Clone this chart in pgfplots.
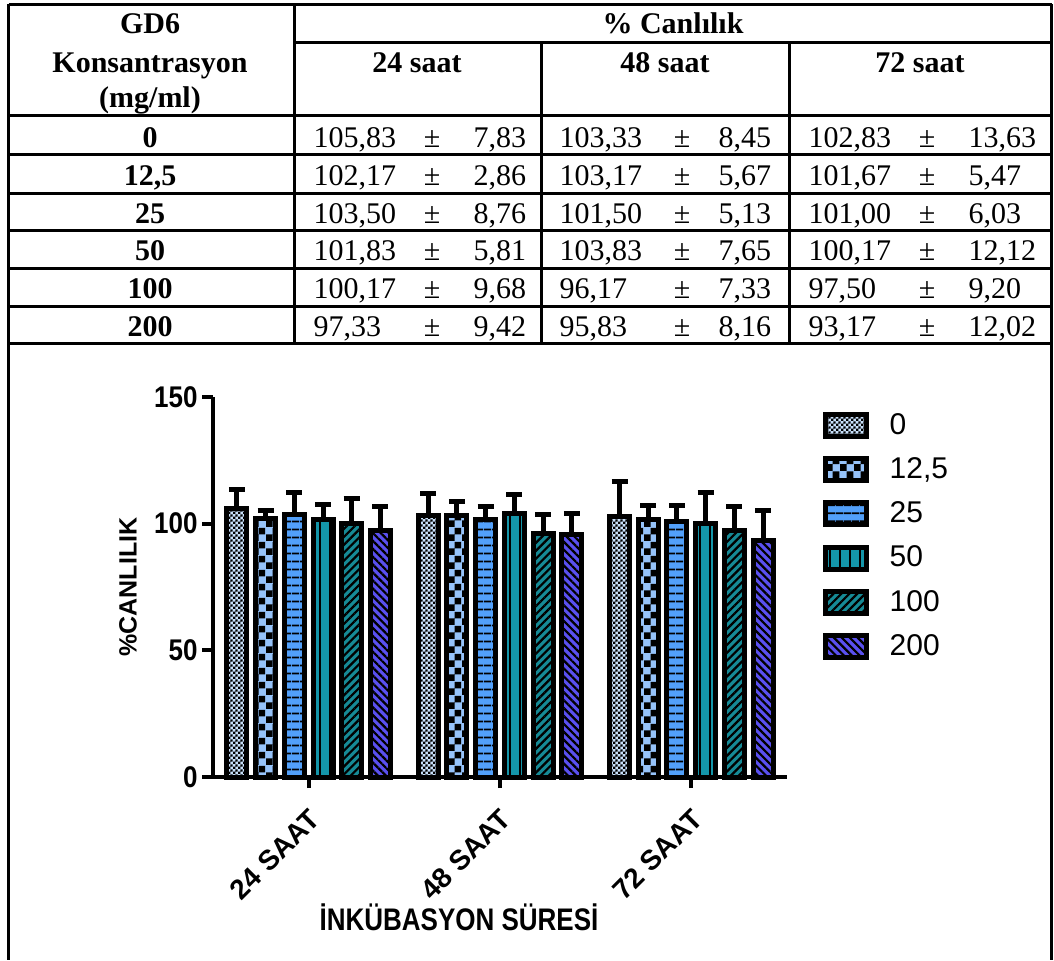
\documentclass[border=0pt]{standalone}
\usepackage{fontspec}
\setmainfont{Liberation Serif}
\newfontfamily\arial{Liberation Sans}
\usepackage{pgfplots}
\pgfplotsset{compat=1.18}
\usetikzlibrary{patterns,patterns.meta}

\definecolor{c0}{RGB}{200,224,250}
\definecolor{c1}{RGB}{150,195,250}
\definecolor{c2}{RGB}{82,160,250}
\definecolor{c3}{RGB}{20,150,170}
\definecolor{c4}{RGB}{22,138,150}
\definecolor{c5}{RGB}{90,80,240}

\pgfdeclarepatternformonly{finecheck}{\pgfqpoint{0pt}{0pt}}{\pgfqpoint{2.6pt}{2.6pt}}{\pgfqpoint{2.6pt}{2.6pt}}{%
  \pgfpathrectangle{\pgfqpoint{0pt}{0pt}}{\pgfqpoint{1.3pt}{1.3pt}}%
  \pgfpathrectangle{\pgfqpoint{1.3pt}{1.3pt}}{\pgfqpoint{1.3pt}{1.3pt}}%
  \pgfusepath{fill}}
\pgfdeclarepatternformonly{coarsecheck}{\pgfqpoint{0pt}{0pt}}{\pgfqpoint{7pt}{7pt}}{\pgfqpoint{7pt}{7pt}}{%
  \pgfpathrectangle{\pgfqpoint{0pt}{0pt}}{\pgfqpoint{3.5pt}{3.5pt}}%
  \pgfpathrectangle{\pgfqpoint{3.5pt}{3.5pt}}{\pgfqpoint{3.5pt}{3.5pt}}%
  \pgfusepath{fill}}

\newcommand\tfont{\fontsize{15}{18}\selectfont}
\newcommand\trow[8]{%
  \node[anchor=base,font=\tfont\bfseries] at (150,#1) {#2};
  \node[anchor=base west] at (312,#1) {#3};
  \node[anchor=base] at (432,#1) {±};
  \node[anchor=base west] at (472,#1) {#4};
  \node[anchor=base west] at (558,#1) {#5};
  \node[anchor=base] at (682,#1) {±};
  \node[anchor=base west] at (717,#1) {#6};
  \node[anchor=base west] at (807,#1) {#7};
  \node[anchor=base] at (927,#1) {±};
  \node[anchor=base west] at (967,#1) {#8};
}

\pgfplotsset{
  mylegend/.style={legend image code/.code={%
    \draw[##1, line width=2.5pt] (0pt,-6.4pt) rectangle (20.5pt,4.6pt);}},
  myerr/.style={error bars/.cd, y dir=plus, y explicit,
    error bar style={line width=2.5pt, black},
    error mark options={rotate=90, line width=2.5pt, black, mark size=4pt}},
}

\begin{document}
\begin{tikzpicture}
\useasboundingbox (0,0) rectangle (527pt,-480pt);
\begin{scope}[x=0.5pt,y=-0.5pt, line width=1.5pt, every node/.style={inner sep=0pt, font=\tfont}]
  % table lines
  \draw (8.5,4) -- (1051.5,4);
  \draw (294,42) -- (1051.5,42);
  \foreach \yy in {115,154,193,230,268,306,343} {\draw (8.5,\yy) -- (1051.5,\yy);}
  \draw (8.5,4) -- (8.5,960);
  \draw (1051.5,4) -- (1051.5,960);
  \draw (294,4) -- (294,343);
  \draw (541,42) -- (541,343);
  \draw (789,42) -- (789,343);
  % header
  \node[anchor=base,font=\tfont\bfseries] at (150,33) {GD6};
  \node[anchor=base,font=\tfont\bfseries] at (150,72) {Konsantrasyon};
  \node[anchor=base,font=\tfont\bfseries] at (150,107) {(mg/ml)};
  \node[anchor=base,font=\tfont\bfseries] at (673,33) {\% Canlılık};
  \node[anchor=base,font=\tfont\bfseries] at (417,72) {24 saat};
  \node[anchor=base,font=\tfont\bfseries] at (665,72) {48 saat};
  \node[anchor=base,font=\tfont\bfseries] at (920,72) {72 saat};
  % rows
  \trow{147}{0}{105,83}{7,83}{103,33}{8,45}{102,83}{13,63}
  \trow{185}{12,5}{102,17}{2,86}{103,17}{5,67}{101,67}{5,47}
  \trow{223}{25}{103,50}{8,76}{101,50}{5,13}{101,00}{6,03}
  \trow{260}{50}{101,83}{5,81}{103,83}{7,65}{100,17}{12,12}
  \trow{298}{100}{100,17}{9,68}{96,17}{7,33}{97,50}{9,20}
  \trow{336}{200}{97,33}{9,42}{95,83}{8,16}{93,17}{12,02}
\end{scope}

\begin{axis}[
  at={(106.5pt,-388.5pt)}, anchor=south west,
  scale only axis, width=287pt, height=190pt,
  xmin=-0.5, xmax=2.5, ymin=0, ymax=150,
  axis lines=left,
  axis line style={line width=2pt, -},
  tick style={line width=2pt, black},
  tick align=outside, major tick length=5.5pt,
  xtick={0,1,2}, xticklabels={24 SAAT,48 SAAT,72 SAAT},
  ytick={0,50,100,150},
  /pgf/number format/assume math mode=true,
  ticklabel style={font=\arial\bfseries\fontsize{13}{13}\selectfont},
  xticklabel style={font=\arial\bfseries\fontsize{14}{14}\selectfont, yshift=-8pt, xshift=-0.5pt, rotate=45, anchor=north east, inner sep=1pt},
  yticklabel style={yscale=1.15, inner sep=2pt},
  ybar, bar width=10pt,
  clip=false,
  legend style={at={(rel axis cs:1.051,0.973)}, anchor=north west, draw=none, fill=none,
    font=\arial\fontsize{15}{15}\selectfont, row sep=8.65pt,
    nodes={inner sep=0pt, text height=10.7pt, text depth=0pt},
    /tikz/every odd column/.append style={column sep=10.5pt}},
  legend cell align=left,
]
\addplot[draw=black, line width=2.5pt, fill=c0, postaction={pattern=finecheck, pattern color=black}, bar shift=-35.875pt, mylegend, myerr]
  coordinates {(0,105.83) +- (0,7.83) (1,103.33) +- (0,8.45) (2,102.83) +- (0,13.63)};
\addlegendentry{0}
\addplot[draw=black, line width=2.5pt, fill=c1, postaction={pattern=coarsecheck, pattern color=black}, bar shift=-21.525pt, mylegend, myerr]
  coordinates {(0,102.17) +- (0,2.86) (1,103.17) +- (0,5.67) (2,101.67) +- (0,5.47)};
\addlegendentry{12,5}
\addplot[draw=black, line width=2.5pt, fill=c2, postaction={pattern={Lines[angle=0,distance=4pt,line width=1pt]}, pattern color=black}, bar shift=-7.175pt, mylegend, myerr]
  coordinates {(0,103.50) +- (0,8.76) (1,101.50) +- (0,5.13) (2,101.00) +- (0,6.03)};
\addlegendentry{25}
\addplot[draw=black, line width=2.5pt, fill=c3, postaction={pattern={Lines[angle=90,distance=5pt,line width=1pt]}, pattern color=black}, bar shift=7.175pt, mylegend, myerr]
  coordinates {(0,101.83) +- (0,5.81) (1,103.83) +- (0,7.65) (2,100.17) +- (0,12.12)};
\addlegendentry{50}
\addplot[draw=black, line width=2.5pt, fill=c4, postaction={pattern={Lines[angle=45,distance=2.8pt,line width=1.1pt]}, pattern color=black}, bar shift=21.525pt, mylegend, myerr]
  coordinates {(0,100.17) +- (0,9.68) (1,96.17) +- (0,7.33) (2,97.50) +- (0,9.20)};
\addlegendentry{100}
\addplot[draw=black, line width=2.5pt, fill=c5, postaction={pattern={Lines[angle=-45,distance=2.8pt,line width=1.1pt]}, pattern color=black}, bar shift=35.875pt, mylegend, myerr]
  coordinates {(0,97.33) +- (0,9.42) (1,95.83) +- (0,8.16) (2,93.17) +- (0,12.02)};
\addlegendentry{200}
\end{axis}

\node[rotate=90, inner sep=0pt, font=\arial\bfseries\fontsize{12.5}{12.5}\selectfont] at (64pt,-293.5pt) {\%CANLILIK};
\node[anchor=base, inner sep=0pt, yscale=1.2, font=\arial\bfseries\fontsize{13}{13}\selectfont] at (229.5pt,-465pt) {İNKÜBASYON SÜRESİ};
\end{tikzpicture}
\end{document}
